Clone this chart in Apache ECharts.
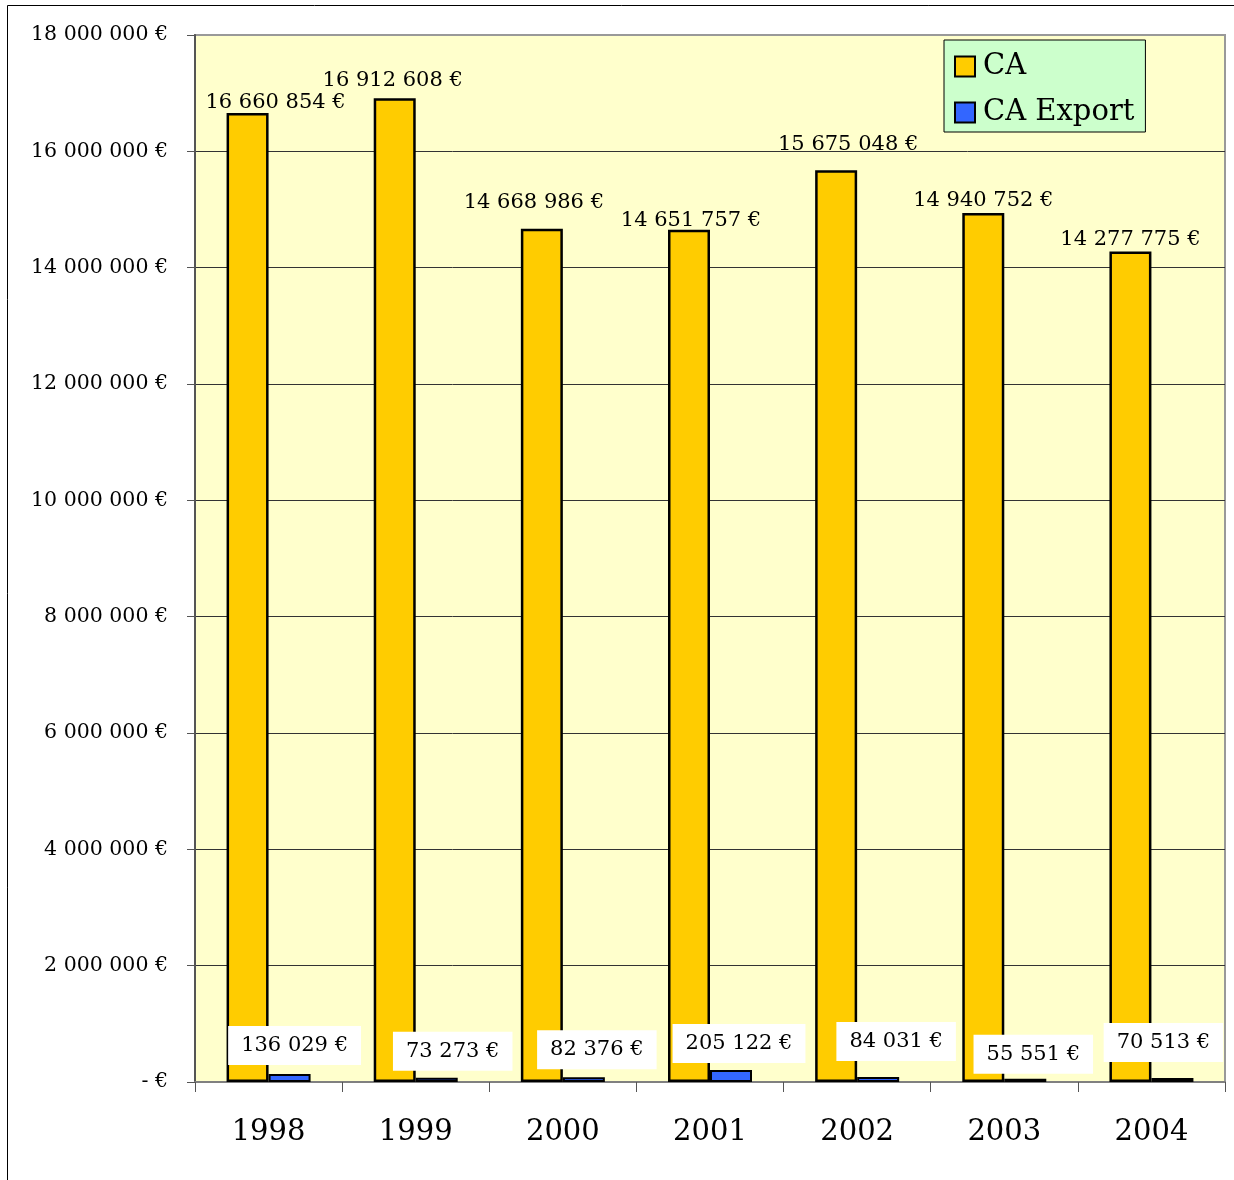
<!DOCTYPE html>
<html>
<head>
<meta charset="utf-8">
<script src="https://cdn.jsdelivr.net/npm/echarts@6/dist/echarts.min.js"></script>
<style>
  html, body { margin: 0; padding: 0; background: #fff; }
  #chart { width: 1234px; height: 1180px; }
</style>
</head>
<body>
<div id="chart"></div>
<script>
// Chiffre d'affaires annuel et part export
const years = ['1998', '1999', '2000', '2001', '2002', '2003', '2004'];
const caValues = [16660854, 16912608, 14668986, 14651757, 15675048, 14940752, 14277775];
const exportValues = [136029, 73273, 82376, 205122, 84031, 55551, 70513];
const seriesNames = ['CA', 'CA Export'];

// small label nudges [dx, dy] in px, keeping labels clear of neighbours
const caLabelNudge = [[28, 0], [-2, -7], [-8, -16], [2, 1], [12, -15], [0, -2], [0, -1]];
const exportLabelNudge = [[5, -9], [16, -7], [13, -8], [8, -7], [18, -16], [8, -5], [-9, -16]];

const FONT = '"DejaVu Serif", serif';

function euro(v) {
  if (v === 0) return '- €';
  return String(Math.round(v)).replace(/\B(?=(\d{3})+(?!\d))/g, ' ') + ' €';
}

const chart = echarts.init(document.getElementById('chart'), null, { renderer: 'canvas' });

chart.setOption({
  backgroundColor: '#ffffff',
  animation: false,
  graphic: [{
    type: 'rect',
    silent: true,
    z: 100,
    shape: { x: 7.5, y: 5.5, width: 1260, height: 1220 },
    style: { fill: null, stroke: '#000', lineWidth: 1 }
  }],
  grid: {
    left: 195, right: 9, top: 35, bottom: 98,
    show: true,
    backgroundColor: '#FFFFCC',
    borderColor: '#999999',
    borderWidth: 2
  },
  legend: {
    orient: 'vertical',
    left: 944, top: 40,
    backgroundColor: '#CCFFCC',
    borderColor: '#000',
    borderWidth: 1,
    borderRadius: 0,
    padding: [12, 11, 5, 10],
    itemGap: 17,
    itemWidth: 20,
    itemHeight: 20,
    icon: 'rect',
    itemStyle: { borderColor: '#000', borderWidth: 2 },
    textStyle: { fontFamily: FONT, fontSize: 29, color: '#000', lineHeight: 29, padding: [0, 0, 0, 3] },
    data: seriesNames
  },
  xAxis: {
    type: 'category',
    data: years,
    boundaryGap: true,
    axisLine: { show: true, lineStyle: { color: '#808080', width: 2 } },
    axisTick: { show: true, alignWithLabel: false, length: 10, lineStyle: { color: '#555', width: 1 } },
    axisLabel: { fontFamily: FONT, fontSize: 29, color: '#000', margin: 36, lineHeight: 29 },
    splitLine: { show: false }
  },
  yAxis: {
    type: 'value',
    min: 0,
    max: 18000000,
    interval: 2000000,
    axisLine: { show: true, lineStyle: { color: '#555', width: 2 } },
    axisTick: { show: true, inside: false, length: 8, lineStyle: { color: '#555', width: 1 } },
    axisLabel: { fontFamily: FONT, fontSize: 20.5, color: '#000', margin: 27, formatter: euro,
                 padding: [7, 0, 0, 0] },
    splitLine: { show: true, showMinLine: false, showMaxLine: false, lineStyle: { color: '#333', width: 1 } }
  },
  series: [
    {
      name: seriesNames[0],
      type: 'bar',
      barWidth: 42,
      barGap: '0%',
      itemStyle: { color: '#FFCC00', borderColor: '#000', borderWidth: 2.5 },
      label: {
        show: true,
        position: 'top',
        distance: 0,
        fontFamily: FONT,
        fontSize: 21,
        lineHeight: 21,
        color: '#000',
        formatter: p => euro(p.value)
      },
      data: caValues.map((v, i) => ({ value: v, label: { offset: caLabelNudge[i] } }))
    },
    {
      name: seriesNames[1],
      type: 'bar',
      barWidth: 42,
      barGap: '0%',
      itemStyle: { color: '#3366FF', borderColor: '#000', borderWidth: 2 },
      label: {
        show: true,
        position: 'top',
        distance: 0,
        fontFamily: FONT,
        fontSize: 21,
        lineHeight: 21,
        color: '#000',
        backgroundColor: '#ffffff',
        padding: [9, 13, 9, 13],
        formatter: p => euro(p.value)
      },
      data: exportValues.map((v, i) => ({ value: v, label: { offset: exportLabelNudge[i] } }))
    }
  ]
});
</script>
</body>
</html>
